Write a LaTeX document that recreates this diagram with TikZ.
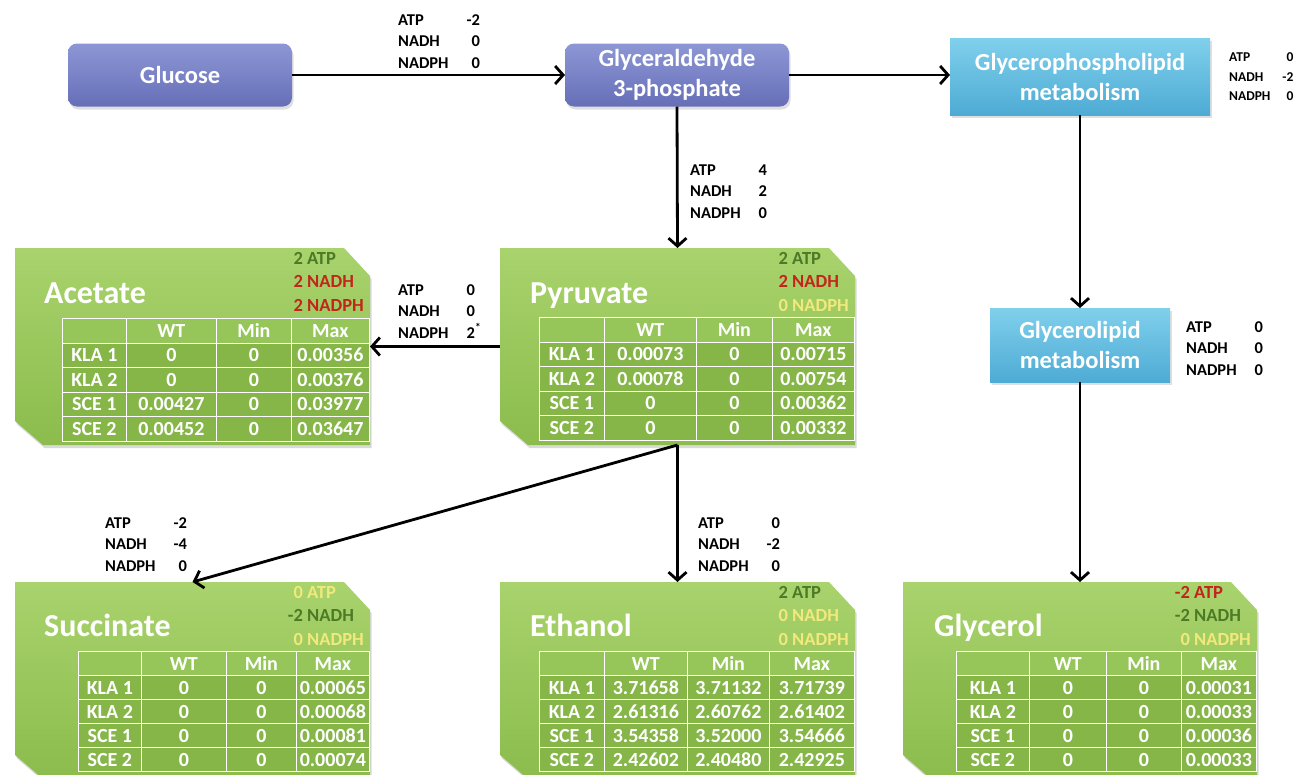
\documentclass[tikz,border=0pt]{standalone}
\usepackage{fontspec}
\setmainfont{Carlito}
\usetikzlibrary{arrows.meta,shadows,matrix}

\definecolor{purpT}{HTML}{8D97D5}
\definecolor{purpB}{HTML}{666FB7}
\definecolor{blueT}{HTML}{80D0EC}
\definecolor{blueB}{HTML}{4EABD4}
\definecolor{grnT}{HTML}{A9D36D}
\definecolor{grnB}{HTML}{8BBC4C}
\definecolor{cellH}{HTML}{96C65A}
\definecolor{cellD}{HTML}{86B648}
\definecolor{lblG}{HTML}{4C7A26}
\definecolor{lblR}{HTML}{C2251C}
\definecolor{lblY}{HTML}{F2E97C}

\newcommand\fluxtab[4][18pt]{\begin{tabular}{@{}l@{\hspace{#1}}r@{}}ATP&#2\\NADH&#3\\NADPH&#4\end{tabular}}
\newcommand\yl[3]{\textcolor{#1}{#2}&\textcolor{#1}{#3}}
\newcommand\yields[3]{\begin{tabular}{@{}r@{\hspace{0.23em}}l@{}}#1\\#2\\#3\end{tabular}}
\newcommand\gshape[1]{\path[gfill] (#1.north west) -- ([xshift=-26pt]#1.north east) -- ([yshift=-28pt]#1.north east) -- (#1.south east) -- ([xshift=28pt]#1.south west) -- ([yshift=24pt]#1.south west) -- cycle;}

\begin{document}
\begin{tikzpicture}[x=1pt,y=-1pt,
  pbox/.style={rounded corners=9pt, top color=purpT, bottom color=purpB, text=white,
    font=\bfseries\fontsize{24.5}{30}\selectfont, align=center, minimum width=224pt,
    minimum height=63pt, inner sep=0pt, outer sep=0pt,
    drop shadow={opacity=0.25, shadow xshift=1.5pt, shadow yshift=-3pt}},
  bbox/.style={top color=blueT, bottom color=blueB, text=white,
    font=\bfseries\fontsize{24.5}{30}\selectfont, align=center, inner sep=0pt, outer sep=0pt,
    drop shadow={opacity=0.25, shadow xshift=1.5pt, shadow yshift=-3pt}},
  gnode/.style={minimum width=355pt, minimum height=197pt, inner sep=0pt, outer sep=0pt, draw=none},
  gfill/.style={top color=grnT, bottom color=grnB,
    drop shadow={opacity=0.3, shadow xshift=1.5pt, shadow yshift=-3pt}},
  gtitle/.style={anchor=base west, text=white, font=\bfseries\fontsize{32}{32}\selectfont, inner sep=0pt},
  sidelbl/.style={anchor=north east, font=\bfseries\fontsize{18.5}{23.5}\selectfont, inner sep=0pt},
  flux/.style={anchor=north west, font=\bfseries\fontsize{16.5}{21.5}\selectfont, inner sep=0pt},
  gtable/.style={matrix of nodes, nodes in empty cells, anchor=north east, inner sep=0pt, outer sep=0pt,
    column sep=-1.3pt, row sep=-1.3pt,
    nodes={draw=white, line width=1.3pt, minimum height=24.5pt, inner sep=0pt, outer sep=0pt,
      anchor=center, text height=13pt, text depth=0pt,
      fill=cellD, text=white, font=\bfseries\fontsize{20}{20}\selectfont},
    row 1/.style={nodes={fill=cellH}}},
  lowtable/.style={nodes={minimum height=24pt}},
  gcols/.style n args={4}{column 1/.style={nodes={minimum width=#1}},
    column 2/.style={nodes={minimum width=#2}}, column 3/.style={nodes={minimum width=#3}},
    column 4/.style={nodes={minimum width=#4}}},
  arr/.style={line width=2.8pt, -{Straight Barb[length=8pt,width=18pt]}}
]
\useasboundingbox (0,0) rectangle (1296,774);
\clip (0,0) rectangle (1296,774);

% top row boxes
\node[pbox] (glc) at (180,75) {Glucose};
\node[pbox] (g3p) at (677,75) {Glyceraldehyde\\3-phosphate};
\node[bbox, minimum width=260pt, minimum height=77pt] (gpl) at (1080,76.5) {Glycerophospholipid\\metabolism};
\node[bbox, minimum width=180pt, minimum height=74pt] (gl) at (1080,345) {Glycerolipid\\metabolism};

% green boxes
\node[gnode] (ace) at (192.5,346.5) {};
\node[gnode] (pyr) at (677.5,346.5) {};
\node[gnode] (suc) at (192.5,680.5) {};
\node[gnode] (eth) at (677.5,680.5) {};
\node[gnode, minimum width=354pt] (gly) at (1080,680.5) {};
\gshape{ace}\gshape{pyr}\gshape{suc}\gshape{eth}\gshape{gly}

% titles
\node[gtitle] (acet) at ([xshift=29pt,yshift=-55pt]ace.north west) {Acetate};
\node[gtitle] (pyrt) at ([xshift=30pt,yshift=-55pt]pyr.north west) {Pyruvate};
\node[gtitle] (suct) at ([xshift=29pt,yshift=-54pt]suc.north west) {Succinate};
\node[gtitle] (etht) at ([xshift=30pt,yshift=-54pt]eth.north west) {Ethanol};
\node[gtitle] (glyt) at ([xshift=31pt,yshift=-54pt]gly.north west) {Glycerol};

% yields
\node[sidelbl] (acey) at ([xshift=-6pt,yshift=0.5pt]ace.north east)
  {\yields{\yl{lblG}{2}{ATP}}{\yl{lblR}{2}{NADH}}{\yl{lblR}{2}{NADPH}}};
\node[sidelbl] (pyry) at ([xshift=-6pt,yshift=0.5pt]pyr.north east)
  {\yields{\yl{lblG}{2}{ATP}}{\yl{lblR}{2}{NADH}}{\yl{lblY}{0}{NADPH}}};
\node[sidelbl] (sucy) at ([xshift=-6pt,yshift=0.5pt]suc.north east)
  {\yields{\yl{lblY}{0}{ATP}}{\yl{lblG}{-2}{NADH}}{\yl{lblY}{0}{NADPH}}};
\node[sidelbl] (ethy) at ([xshift=-6pt,yshift=0.5pt]eth.north east)
  {\yields{\yl{lblG}{2}{ATP}}{\yl{lblY}{0}{NADH}}{\yl{lblY}{0}{NADPH}}};
\node[sidelbl] (glyy) at ([xshift=-6pt,yshift=0.5pt]gly.north east)
  {\yields{\yl{lblR}{-2}{ATP}}{\yl{lblG}{-2}{NADH}}{\yl{lblY}{0}{NADPH}}};

% tables
\matrix[gtable, gcols={64pt}{90pt}{75pt}{78pt}] (acetab) at ([yshift=-70pt]ace.north east) {
  & WT & Min & Max\\
  KLA 1 & 0 & 0 & 0.00356\\
  KLA 2 & 0 & 0 & 0.00376\\
  SCE 1 & 0.00427 & 0 & 0.03977\\
  SCE 2 & 0.00452 & 0 & 0.03647\\
};
\matrix[gtable, gcols={65pt}{92pt}{76pt}{82pt}] (pyrtab) at ([yshift=-69pt]pyr.north east) {
  & WT & Min & Max\\
  KLA 1 & 0.00073 & 0 & 0.00715\\
  KLA 2 & 0.00078 & 0 & 0.00754\\
  SCE 1 & 0 & 0 & 0.00362\\
  SCE 2 & 0 & 0 & 0.00332\\
};
\matrix[gtable, lowtable, gcols={63pt}{85pt}{70pt}{73pt}] (suctab) at ([yshift=-69pt]suc.north east) {
  & WT & Min & Max\\
  KLA 1 & 0 & 0 & 0.00065\\
  KLA 2 & 0 & 0 & 0.00068\\
  SCE 1 & 0 & 0 & 0.00081\\
  SCE 2 & 0 & 0 & 0.00074\\
};
\matrix[gtable, lowtable, gcols={65pt}{83pt}{82pt}{85pt}] (ethtab) at ([yshift=-69pt]eth.north east) {
  & WT & Min & Max\\
  KLA 1 & 3.71658 & 3.71132 & 3.71739\\
  KLA 2 & 2.61316 & 2.60762 & 2.61402\\
  SCE 1 & 3.54358 & 3.52000 & 3.54666\\
  SCE 2 & 2.42602 & 2.40480 & 2.42925\\
};
\matrix[gtable, lowtable, gcols={73pt}{77pt}{75pt}{75pt}] (glytab) at ([yshift=-69pt]gly.north east) {
  & WT & Min & Max\\
  KLA 1 & 0 & 0 & 0.00031\\
  KLA 2 & 0 & 0 & 0.00033\\
  SCE 1 & 0 & 0 & 0.00036\\
  SCE 2 & 0 & 0 & 0.00033\\
};

% connectors
\draw[arr] (glc) -- (g3p);
\draw[arr] (g3p.east) -- (g3p.east -| gpl.west);
\draw[arr] (g3p.south) -- (pyr.north);
\draw[arr] (pyr.west) -- (ace.east);
\draw[arr] (pyr.south) -- (suc.north);
\draw[arr] (pyr.south) -- (eth.north);
\draw[arr] (gpl.south) -- (gl.north);
\draw[arr] (gl.south) -- (gly.north);

% flux labels
\node[flux] (f1) at (398,10) {\fluxtab{-2}{0}{0}};
\node[flux] (f2) at (690,160) {\fluxtab{4}{2}{0}};
\node[flux] (f3) at (398,280) {\fluxtab{0}{0}{2\rlap{\textsuperscript{*}}}};
\node[flux] (f4) at (105,513) {\fluxtab{-2}{-4}{0}};
\node[flux] (f5) at (698,513) {\fluxtab{0}{-2}{0}};
\node[flux] (f6) at (1186,317) {\fluxtab{0}{0}{0}};
\node[flux, font=\bfseries\fontsize{13.5}{19.5}\selectfont] (f7) at (1229,48) {\fluxtab[12pt]{0}{-2}{0}};
\end{tikzpicture}
\end{document}
